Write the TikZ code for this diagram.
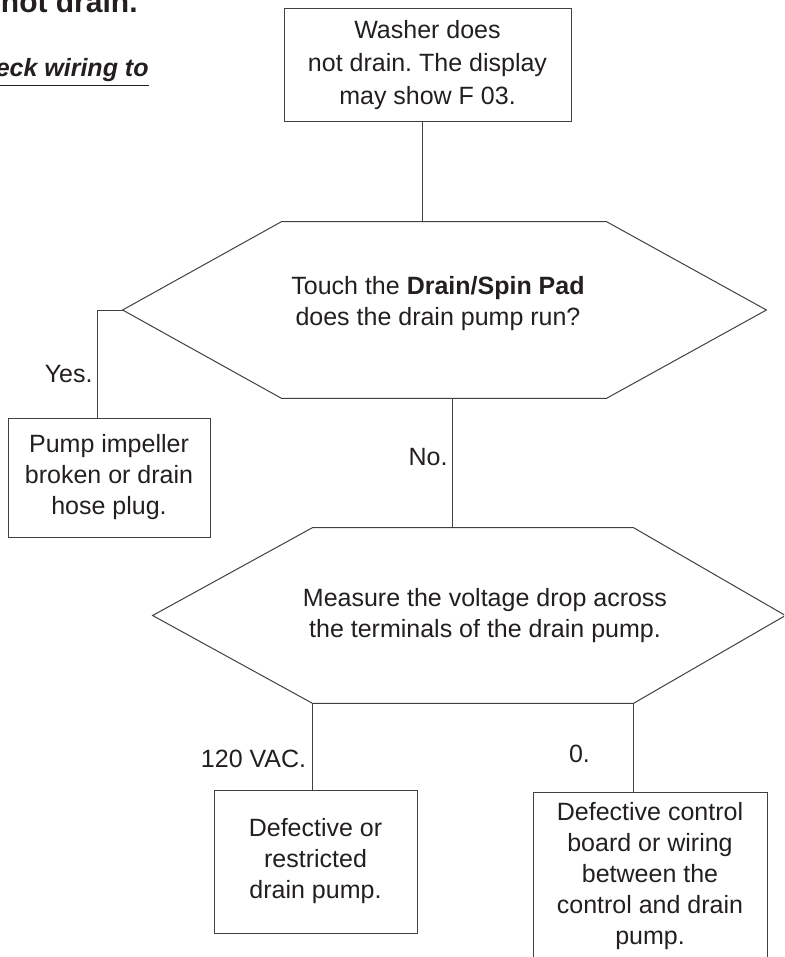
\documentclass[tikz,border=0pt]{standalone}
\usepackage{fontspec}
\setmainfont{Liberation Sans}
\usetikzlibrary{positioning}
\definecolor{inkcol}{HTML}{231F20}
\frenchspacing
\tikzset{
  txt/.style={font=\fontsize{12.5}{15.5}\selectfont, text=inkcol, align=center,
    inner sep=0pt},
  box/.style={txt, draw=black!75, line width=0.5pt},
  hexa/.style={inner sep=0pt, minimum height=88pt},
  conn/.style={draw=black!75, line width=0.5pt},
  lab/.style={txt, inner sep=2pt}}

\begin{document}
\begin{tikzpicture}[x=0.5pt, y=-0.5pt]
    \useasboundingbox (0,0) rectangle (784,957);
    \clip (0,0) rectangle (784,957);
    % heading and note, cut by the page edge
    \node[txt, font=\bfseries\fontsize{15}{18}\selectfont, anchor=base east] (head) at (138,13) {not drain.};
    \node[txt, font=\bfseries\itshape\fontsize{12.5}{15}\selectfont, anchor=base east] (note) at (149,77) {\underline{eck wiring to}};
    % boxes
    \node[box, font=\fontsize{12.5}{16.5}\selectfont, minimum width=143.5pt, minimum height=56.5pt] (start) at (427.5,65.5) {Washer does\\not drain. The display\\may show F 03.};
    \node[box, minimum width=101pt, minimum height=59.5pt] (impeller) at (109,477.5) {Pump impeller\\broken or drain\\hose plug.};
    \node[box, minimum width=101.5pt, minimum height=71.5pt] (pumpbad) at (315.5,861.5) {Defective or\\restricted\\drain pump.};
    \node[box, minimum width=117pt, minimum height=84pt] (board) at (650,876) {Defective control\\board or wiring\\between the\\control and drain\\pump.};
    % decisions: hexagons drawn round empty nodes, text on top
    \node[hexa, minimum width=162pt] (touch) at (444,310) {};
    \draw[conn] (touch.north west) -- (touch.north east) -- ([xshift=80pt]touch.east)
      -- (touch.south east) -- (touch.south west) -- ([xshift=-79.5pt]touch.west) -- cycle;
    \node[txt] (touch-txt) at ([xshift=-3pt,yshift=3pt]touch.center) {Touch the \textbf{Drain/Spin Pad}\\does the drain pump run?};
    \node[hexa, minimum width=160pt, minimum height=87.5pt] (measure) at (473,615.5) {};
    \draw[conn] (measure.north west) -- (measure.north east) -- ([xshift=76pt]measure.east)
      -- (measure.south east) -- (measure.south west) -- ([xshift=-80pt]measure.west) -- cycle;
    \node[txt] (measure-txt) at ([xshift=6pt]measure.center) {Measure the voltage drop across\\the terminals of the drain pump.};
    % connectors
    \draw[conn] ([xshift=-2.75pt]start.south) -- ([xshift=-2.75pt]start.south |- touch.north);
    \draw[conn] ([xshift=-79.5pt]touch.west) -| ([xshift=-6pt]impeller.north)
      node[lab, pos=0.8, left] {Yes.};
    \draw[conn] ([xshift=4pt]touch.south) -- ([xshift=4pt]touch.south |- measure.north)
      node[lab, pos=0.45, left] {No.};
    \draw[conn] (measure.south west) -- (measure.south west |- pumpbad.north)
      node[lab, pos=0.65, left=1pt] {120 VAC.};
    \draw[conn] (measure.south east) -- (measure.south east |- board.north)
      node[lab, pos=0.57, left=19.5pt] {0.};
\end{tikzpicture}
\end{document}
